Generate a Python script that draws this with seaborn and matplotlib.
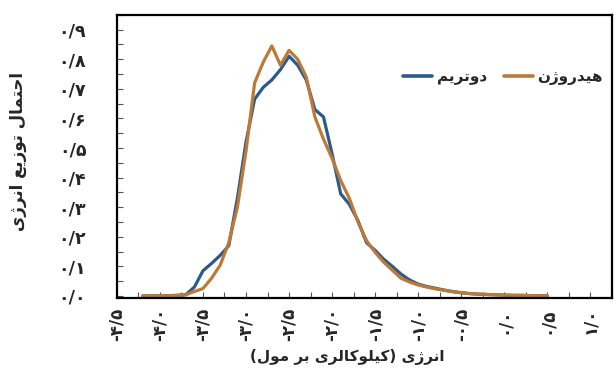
import matplotlib
matplotlib.use("Agg")
import matplotlib.pyplot as plt
import pandas as pd
import seaborn as sns

# Energy grid (kcal/mol) and probability distribution of each isotope
energy = [-4.2, -4.1, -4.0, -3.9, -3.8, -3.7, -3.6, -3.5, -3.4, -3.3,
          -3.2, -3.1, -3.0, -2.9, -2.8, -2.7, -2.6, -2.5, -2.4, -2.3,
          -2.2, -2.1, -2.0, -1.9, -1.8, -1.7, -1.6, -1.5, -1.4, -1.3,
          -1.2, -1.1, -1.0, -0.9, -0.8, -0.7, -0.6, -0.5, -0.4, -0.3,
          -0.2, -0.1, 0.0, 0.1, 0.2, 0.3, 0.4, 0.5]

deuterium = [0.000, 0.000, 0.001, 0.001, 0.002, 0.004, 0.030, 0.085, 0.110, 0.137,
             0.170, 0.330, 0.520, 0.665, 0.705, 0.730, 0.765, 0.810, 0.780, 0.730,
             0.630, 0.605, 0.480, 0.345, 0.310, 0.255, 0.180, 0.154, 0.124, 0.100,
             0.074, 0.054, 0.040, 0.032, 0.026, 0.020, 0.015, 0.011, 0.008, 0.006,
             0.005, 0.004, 0.003, 0.002, 0.002, 0.001, 0.001, 0.000]

hydrogen = [0.000, 0.000, 0.001, 0.001, 0.002, 0.004, 0.015, 0.025, 0.060, 0.104,
            0.180, 0.300, 0.490, 0.720, 0.790, 0.845, 0.780, 0.830, 0.800, 0.740,
            0.605, 0.530, 0.465, 0.390, 0.330, 0.250, 0.187, 0.147, 0.114, 0.087,
            0.060, 0.047, 0.037, 0.030, 0.024, 0.019, 0.014, 0.011, 0.008, 0.006,
            0.005, 0.004, 0.003, 0.002, 0.002, 0.001, 0.001, 0.000]

series_names = ["دوتریم", "هیدروژن"]
series_colors = ["#2B5A8C", "#BC7A36"]

x_ticks = [-4.5, -4.0, -3.5, -3.0, -2.5, -2.0, -1.5, -1.0, -0.5, 0.0, 0.5, 1.0]
x_tick_labels = ["-۴/۵", "-۴/۰", "-۳/۵", "-۳/۰", "-۲/۵", "-۲/۰",
                 "-۱/۵", "-۱/۰", "-۰/۵", "۰/۰", "۰/۵", "۱/۰"]
y_ticks = [0.0, 0.1, 0.2, 0.3, 0.4, 0.5, 0.6, 0.7, 0.8, 0.9]
y_tick_labels = ["۰/۰", "۰/۱", "۰/۲", "۰/۳", "۰/۴", "۰/۵", "۰/۶", "۰/۷", "۰/۸", "۰/۹"]

x_title = "انرژی (کیلوکالری بر مول)"
y_title = "احتمال توزیع انرژی"


# --- minimal Persian shaping (matplotlib draws glyphs left to right, unjoined) ---
FORMS = {  # isolated, final, initial, medial
    "ا": ("\uFE8D", "\uFE8E", None, None),
    "ب": ("\uFE8F", "\uFE90", "\uFE91", "\uFE92"),
    "ت": ("\uFE95", "\uFE96", "\uFE97", "\uFE98"),
    "ح": ("\uFEA1", "\uFEA2", "\uFEA3", "\uFEA4"),
    "د": ("\uFEA9", "\uFEAA", None, None),
    "ر": ("\uFEAD", "\uFEAE", None, None),
    "ز": ("\uFEAF", "\uFEB0", None, None),
    "ژ": ("\uFB8A", "\uFB8B", None, None),
    "ع": ("\uFEC9", "\uFECA", "\uFECB", "\uFECC"),
    "ل": ("\uFEDD", "\uFEDE", "\uFEDF", "\uFEE0"),
    "م": ("\uFEE1", "\uFEE2", "\uFEE3", "\uFEE4"),
    "ن": ("\uFEE5", "\uFEE6", "\uFEE7", "\uFEE8"),
    "ه": ("\uFEE9", "\uFEEA", "\uFEEB", "\uFEEC"),
    "و": ("\uFEED", "\uFEEE", None, None),
    "ک": ("\uFB8E", "\uFB8F", "\uFB90", "\uFB91"),
    "ی": ("\uFBFC", "\uFBFD", "\uFBFE", "\uFBFF"),
}
MIRROR = {"(": ")", ")": "("}


def dual(ch):
    return ch in FORMS and FORMS[ch][2] is not None


def shape(text):
    out = []
    for i, ch in enumerate(text):
        if ch not in FORMS:
            out.append(ch)
            continue
        prev_ch = text[i - 1] if i > 0 else ""
        next_ch = text[i + 1] if i + 1 < len(text) else ""
        joins_prev = dual(prev_ch)
        joins_next = dual(ch) and next_ch in FORMS
        iso, fin, ini, med = FORMS[ch]
        if joins_prev and joins_next:
            out.append(med)
        elif joins_prev:
            out.append(fin)
        elif joins_next:
            out.append(ini)
        else:
            out.append(iso)
    return "".join(MIRROR.get(c, c) for c in reversed(out))


# --- data frame for seaborn ---
df = pd.DataFrame({
    "energy": energy * 2,
    "prob": deuterium + hydrogen,
    "series": [series_names[0]] * len(energy) + [series_names[1]] * len(energy),
})

sns.set_theme(style="white")
plt.rcParams["font.family"] = ["DejaVu Sans"]

fig = plt.figure(figsize=(6.15, 3.81), dpi=100)
ax = fig.add_axes([0.190, 0.218, 0.805, 0.743])

sns.lineplot(data=df, x="energy", y="prob", hue="series", hue_order=series_names,
             palette=dict(zip(series_names, series_colors)), estimator=None,
             sort=False, linewidth=2.3, ax=ax, legend=False)
for line in ax.lines:
    line.set_solid_joinstyle("round")
    line.set_solid_capstyle("round")

ax.set_xlim(-4.48, 1.21)
ax.set_ylim(-0.0067, 0.94)

ax.set_xticks(x_ticks)
ax.set_xticklabels(x_tick_labels, rotation=90, fontsize=12, fontweight="bold")
ax.set_xticks([t + 0.25 for t in x_ticks], minor=True)
ax.set_yticks(y_ticks)
ax.set_yticklabels(y_tick_labels, fontsize=12.5, fontweight="bold")
ax.set_yticks([t + 0.05 for t in y_ticks], minor=True)

ax.tick_params(axis="both", which="both", direction="in", length=4, width=0.8,
               color="#555555", bottom=True, left=True, top=False, right=False)
ax.tick_params(axis="x", which="major", pad=7)
ax.tick_params(axis="y", which="major", pad=22)

for sp in ax.spines.values():
    sp.set_visible(True)
    sp.set_color("black")
    sp.set_linewidth(1.6)

ax.set_xlabel(shape(x_title), fontsize=11, fontweight="bold")
ax.set_ylabel(shape(y_title), fontsize=12, fontweight="bold")
ax.xaxis.set_label_coords(0.465, -0.182)
ax.yaxis.set_label_coords(-0.182, 0.516)

handles = [plt.Line2D([], [], color=c, linewidth=2.6) for c in series_colors]
ax.legend(handles, [shape(n) for n in series_names], ncol=2, frameon=False,
          loc="center", bbox_to_anchor=(0.78, 0.78), handlelength=1.9,
          handletextpad=0.3, columnspacing=1.1,
          prop={"size": 11, "weight": "bold"})

fig.savefig("out.png", dpi=100, facecolor="white")
